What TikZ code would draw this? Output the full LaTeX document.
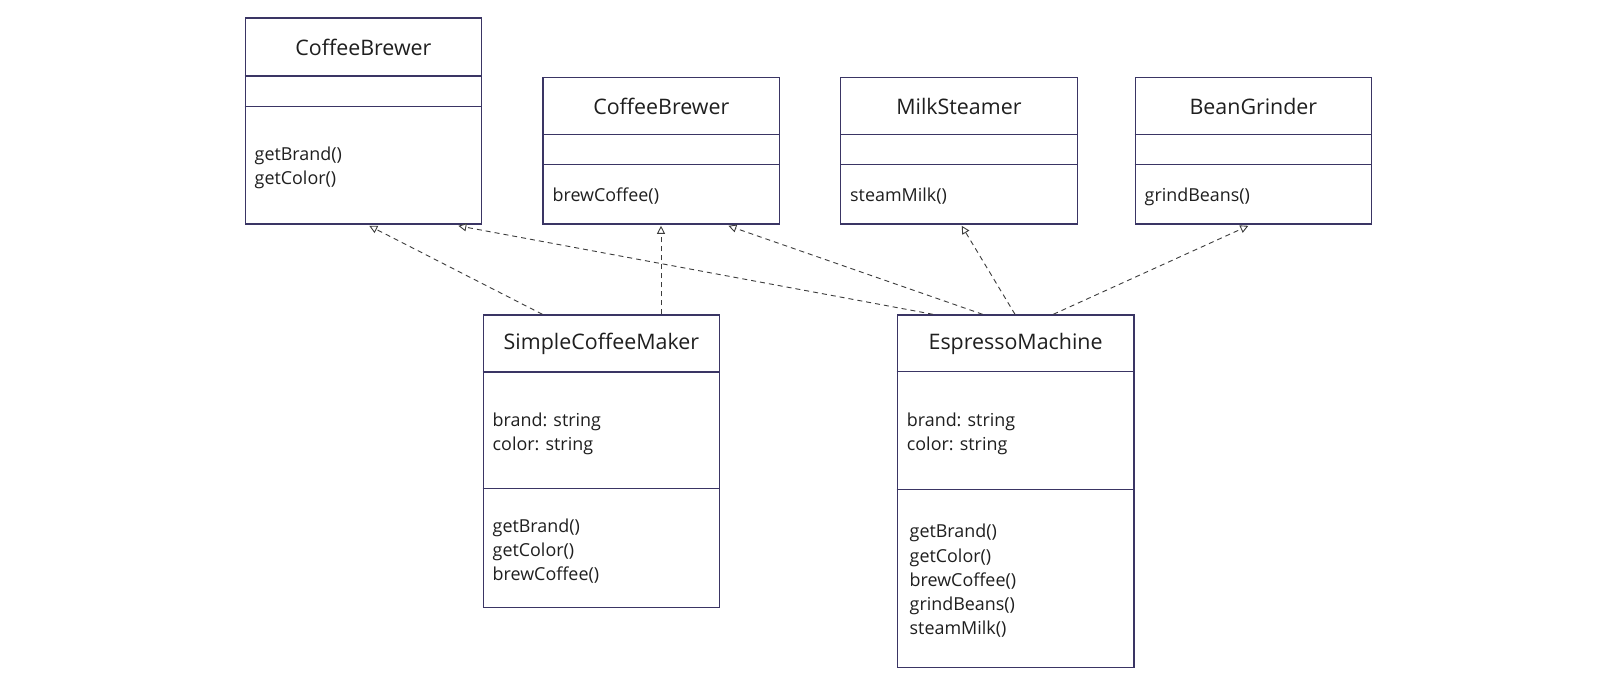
\documentclass[tikz,border=0pt]{standalone}
\usepackage{fontspec}
\setmainfont{Open Sans}
\usetikzlibrary{arrows.meta}
\definecolor{boxc}{RGB}{58,53,100}
\definecolor{linec}{RGB}{60,60,60}
\begin{document}
\begin{tikzpicture}[x=1pt,y=-1pt,
 cls/.style={draw=boxc,line width=1.3pt,fill=white,minimum width=236.5pt,inner sep=0pt,anchor=north west},
 div/.style={draw=boxc,line width=1.3pt},
 title/.style={font=\fontsize{21.4}{25}\selectfont,text=black!88,inner sep=0pt},
 body/.style={font=\fontsize{17.9}{24.3}\selectfont,text=black!88,align=left,anchor=west,inner sep=0pt},
 impl/.style={draw=linec,line width=0.9pt,dash pattern=on 5pt off 4pt,-{Triangle[open,length=8pt,width=8pt,line width=0.9pt,fill=white]}}]
\fill[white] (0,0) rectangle (1620,686);
\useasboundingbox (0,0) rectangle (1620,686);

% CoffeeBrewer (left)
\node[cls,minimum height=206pt] (b1) at (244.5,17.3) {};
\draw[div] ([yshift=-58.7pt]b1.north west) -- ([yshift=-58.7pt]b1.north east);
\draw[div] ([yshift=-89.4pt]b1.north west) -- ([yshift=-89.4pt]b1.north east);
\node[title] (b1t) at ([yshift=-30.5pt]b1.north) {CoffeeBrewer};
\node[body] (b1m) at (254.5,168) {getBrand()\\getColor()};

% CoffeeBrewer (second)
\node[cls,minimum height=146.8pt] (b2) at (542.4,76.5) {};
\draw[div] ([yshift=-57.8pt]b2.north west) -- ([yshift=-57.8pt]b2.north east);
\draw[div] ([yshift=-87.8pt]b2.north west) -- ([yshift=-87.8pt]b2.north east);
\node[title] (b2t) at ([yshift=-30pt]b2.north) {CoffeeBrewer};
\node[body] (b2m) at (552.4,196.5) {brewCoffee()};

% MilkSteamer
\node[cls,minimum height=146.8pt] (b3) at (840,76.5) {};
\draw[div] ([yshift=-57.8pt]b3.north west) -- ([yshift=-57.8pt]b3.north east);
\draw[div] ([yshift=-87.8pt]b3.north west) -- ([yshift=-87.8pt]b3.north east);
\node[title] (b3t) at ([yshift=-30pt]b3.north) {MilkSteamer};
\node[body] (b3m) at (850,196.5) {steamMilk()};

% BeanGrinder
\node[cls,minimum height=146.8pt] (b4) at (1134.5,76.5) {};
\draw[div] ([yshift=-57.8pt]b4.north west) -- ([yshift=-57.8pt]b4.north east);
\draw[div] ([yshift=-87.8pt]b4.north west) -- ([yshift=-87.8pt]b4.north east);
\node[title] (b4t) at ([yshift=-30pt]b4.north) {BeanGrinder};
\node[body] (b4m) at (1144.5,196.5) {grindBeans()};

% SimpleCoffeeMaker
\node[cls,minimum height=292.2pt] (scm) at (482.5,314.3) {};
\draw[div] ([yshift=-57.7pt]scm.north west) -- ([yshift=-57.7pt]scm.north east);
\draw[div] ([yshift=-174.4pt]scm.north west) -- ([yshift=-174.4pt]scm.north east);
\node[title] (scmt) at ([yshift=-30pt]scm.north) {SimpleCoffeeMaker};
\node[body] (scma) at (492.5,434) {brand: string\\color: string};
\node[body] (scmm) at (492.5,551) {getBrand()\\getColor()\\brewCoffee()};

% EspressoMachine
\node[cls,minimum height=352.4pt] (em) at (896.7,314.3) {};
\draw[div] ([yshift=-57.4pt]em.north west) -- ([yshift=-57.4pt]em.north east);
\draw[div] ([yshift=-175pt]em.north west) -- ([yshift=-175pt]em.north east);
\node[title] (emt) at ([yshift=-30pt]em.north) {EspressoMachine};
\node[body] (ema) at (906.7,434) {brand: string\\color: string};
\node[body] (emm) at (909.5,581) {getBrand()\\getColor()\\brewCoffee()\\grindBeans()\\steamMilk()};

% realizations
\draw[impl] ([xshift=59.9pt]scm.north west) -- ([xshift=124.8pt,yshift=-1.2pt]b1.south west);
\draw[impl] ([xshift=178.5pt]scm.north west) -- ([xshift=118.6pt,yshift=-1.2pt]b2.south west);
\draw[impl] ([xshift=36.3pt]em.north west) -- ([xshift=213.8pt,yshift=-1.2pt]b1.south west);
\draw[impl] ([xshift=85.9pt]em.north west) -- ([xshift=186pt,yshift=-1.2pt]b2.south west);
\draw[impl] ([xshift=118.3pt]em.north west) -- ([xshift=121.7pt,yshift=-1.2pt]b3.south west);
\draw[impl] ([xshift=156.6pt]em.north west) -- ([xshift=113.8pt,yshift=-1.2pt]b4.south west);
\end{tikzpicture}
\end{document}
